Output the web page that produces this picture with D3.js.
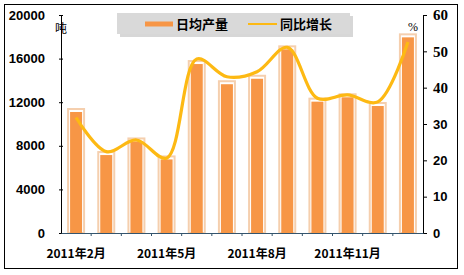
<!DOCTYPE html>
<html>
<head>
<meta charset="utf-8">
<script src="https://cdnjs.cloudflare.com/ajax/libs/d3/7.8.5/d3.min.js"></script>
<style>
  html, body { margin: 0; padding: 0; background: #fff; }
  svg { display: block; }
</style>
</head>
<body>
<div id="chart"></div>
<script>
// monthly data, Feb 2011 - Jan 2012
var months = ['2011年2月', '2011年3月', '2011年4月', '2011年5月', '2011年6月', '2011年7月',
              '2011年8月', '2011年9月', '2011年10月', '2011年11月', '2011年12月', '2012年1月'];
var dailyOutput = [11100, 7150, 8400, 6750, 15500, 13650, 14150, 16850, 12050, 12450, 11650, 17950];
var yoyGrowth = [31.8, 22.4, 25.6, 20.6, 47.9, 43.0, 44.4, 51.1, 37.1, 38.0, 36.1, 52.6];
var leftTicks = [0, 4000, 8000, 12000, 16000, 20000];
var rightTicks = [0, 10, 20, 30, 40, 50, 60];
var shownLabels = ['2011年2月', '2011年5月', '2011年8月', '2011年11月'];
var seriesNames = ['日均产量', '同比增长'];

var width = 464, height = 275;
var margin = { left: 61, right: 41, top: 15, bottom: 42 };
var cjk = '"Noto Sans CJK SC", "Liberation Sans", sans-serif';

var svg = d3.select('#chart').append('svg')
  .attr('width', width)
  .attr('height', height);

// outer frame
svg.append('rect')
  .attr('x', 4.5).attr('y', 4.5)
  .attr('width', 453).attr('height', 264)
  .attr('fill', '#fff')
  .attr('stroke', '#000');

var x = d3.scaleBand()
  .domain(months)
  .range([margin.left, width - margin.right]);

var yL = d3.scaleLinear().domain([0, 20000]).range([height - margin.bottom, margin.top]);
var yR = d3.scaleLinear().domain([0, 60]).range([height - margin.bottom, margin.top]);

var cx = function (d, i) { return x(months[i]) + x.bandwidth() / 2; };

// bars: peach outline box with orange fill inside
var bars = svg.append('g');
bars.selectAll('.outer')
  .data(dailyOutput)
  .enter().append('rect')
  .attr('class', 'outer')
  .attr('x', function (d, i) { return cx(d, i) - 8; })
  .attr('y', function (d) { return yL(d) - 3; })
  .attr('width', 16)
  .attr('height', function (d) { return yL(0) - yL(d) + 3; })
  .attr('fill', '#fff')
  .attr('stroke', '#f5cfae')
  .attr('stroke-width', 2);

bars.selectAll('.inner')
  .data(dailyOutput)
  .enter().append('rect')
  .attr('class', 'inner')
  .attr('x', function (d, i) { return cx(d, i) - 6; })
  .attr('y', function (d) { return yL(d); })
  .attr('width', 12)
  .attr('height', function (d) { return yL(0) - yL(d); })
  .attr('fill', '#f79646');

// growth line
var line = d3.line()
  .x(function (d, i) { return cx(d, i); })
  .y(function (d) { return yR(d); })
  .curve(d3.curveCatmullRom.alpha(0.5));

svg.append('path')
  .datum(yoyGrowth)
  .attr('d', line)
  .attr('fill', 'none')
  .attr('stroke', '#fdb913')
  .attr('stroke-width', 3.2);

// left axis
var leftAxis = svg.append('g')
  .attr('transform', 'translate(' + margin.left + ',0)')
  .call(d3.axisLeft(yL).tickValues(leftTicks).tickSize(2).tickPadding(14).tickFormat(d3.format('d')));
leftAxis.select('.domain').attr('stroke', '#000');
leftAxis.selectAll('.tick line').attr('x2', 2).attr('x1', -2);
leftAxis.selectAll('text')
  .attr('font-family', '"Liberation Sans", Arial, sans-serif')
  .attr('font-weight', 'bold')
  .attr('font-size', 13)
  .attr('fill', '#000');

// right axis
var rightAxis = svg.append('g')
  .attr('transform', 'translate(' + (width - margin.right) + ',0)')
  .call(d3.axisRight(yR).tickValues(rightTicks).tickSize(4).tickPadding(6));
rightAxis.select('.domain').attr('stroke', '#000');
rightAxis.selectAll('text')
  .attr('font-family', function (d) {
    return d >= 40 ? '"Liberation Serif", "Times New Roman", serif' : '"Liberation Sans", Arial, sans-serif';
  })
  .attr('font-weight', 'bold')
  .attr('font-size', function (d) { return d >= 40 ? 15 : 13; })
  .attr('fill', '#000');

// bottom axis
var bottomAxis = svg.append('g')
  .attr('transform', 'translate(0,' + yL(0) + ')')
  .call(d3.axisBottom(x).tickSize(0).tickPadding(16)
    .tickFormat(function (d) { return shownLabels.indexOf(d) >= 0 ? d : ''; }));
bottomAxis.select('.domain').attr('stroke', '#34556e');
bottomAxis.selectAll('text')
  .attr('font-family', cjk)
  .attr('font-weight', 'bold')
  .attr('font-size', 12)
  .attr('fill', '#000');
bottomAxis.selectAll('.sep')
  .data(months.slice(1))
  .enter().append('line')
  .attr('class', 'sep')
  .attr('x1', function (d) { return x(d); })
  .attr('x2', function (d) { return x(d); })
  .attr('y1', 0).attr('y2', 3)
  .attr('stroke', '#34556e');

// unit labels
svg.append('text')
  .attr('x', margin.left).attr('y', 33)
  .attr('text-anchor', 'middle')
  .attr('font-family', cjk)
  .attr('font-size', 12)
  .text('吨');
svg.append('text')
  .attr('x', 413).attr('y', 31)
  .attr('text-anchor', 'middle')
  .attr('font-family', '"Liberation Serif", serif')
  .attr('font-size', 12)
  .text('%');

// legend
var legend = svg.append('g');
legend.append('rect')
  .attr('x', 120).attr('y', 16)
  .attr('width', 233).attr('height', 21)
  .attr('fill', '#bdbdbd')
  .attr('opacity', 0.6);
legend.append('rect')
  .attr('x', 117).attr('y', 13)
  .attr('width', 233).attr('height', 21)
  .attr('fill', '#d9d9d9');
legend.append('line')
  .attr('x1', 145).attr('x2', 173)
  .attr('y1', 24).attr('y2', 24)
  .attr('stroke', '#f79646')
  .attr('stroke-width', 5);
legend.append('line')
  .attr('x1', 248).attr('x2', 277)
  .attr('y1', 24).attr('y2', 24)
  .attr('stroke', '#fdb913')
  .attr('stroke-width', 2);
legend.selectAll('.ltext')
  .data(seriesNames)
  .enter().append('text')
  .attr('class', 'ltext')
  .attr('x', function (d, i) { return i === 0 ? 176 : 280; })
  .attr('y', 29)
  .attr('font-family', cjk)
  .attr('font-weight', 'bold')
  .attr('font-size', 13)
  .text(function (d) { return d; });
</script>
</body>
</html>
